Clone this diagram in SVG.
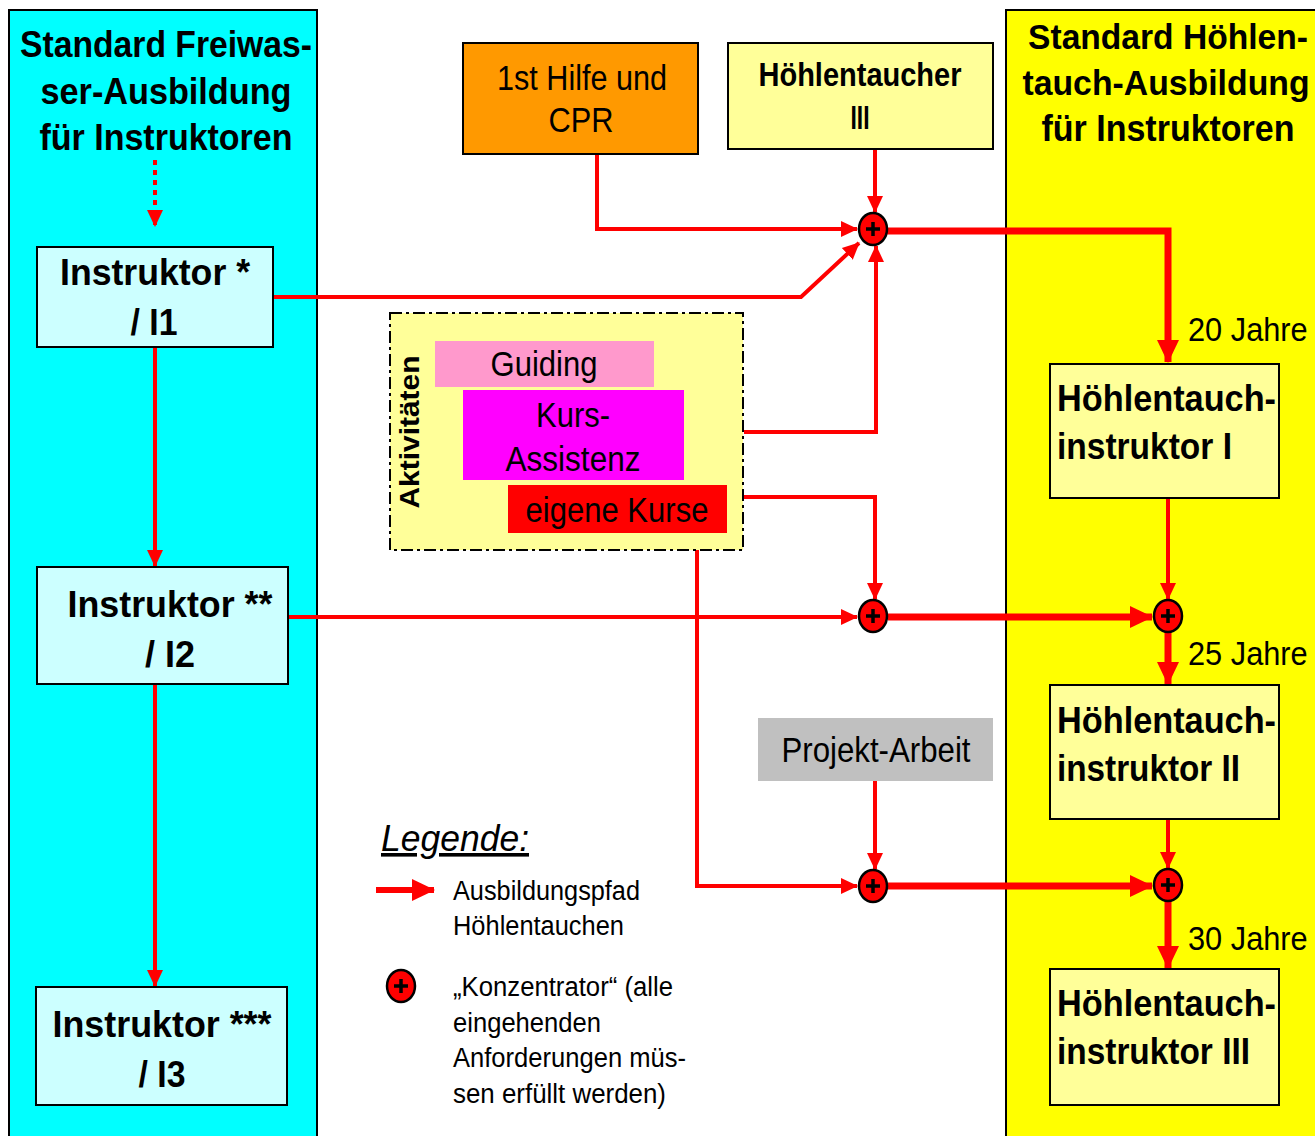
<svg xmlns="http://www.w3.org/2000/svg" width="1315" height="1136" viewBox="0 0 1315 1136">
<style>
text{font-family:"Liberation Sans",Arial,sans-serif;fill:#000}
.b{font-weight:bold}
.t{font-size:36px;font-weight:bold;text-anchor:middle}
.n{font-size:37px;font-weight:bold;text-anchor:middle}
.h{font-size:37px;font-weight:bold}
.r{font-size:35px}
.j{font-size:34px}
.l{font-size:27px}
.box{stroke:#000;stroke-width:2}
.c{fill:none;stroke:#ff0000;stroke-width:4}
.k{fill:none;stroke:#ff0000;stroke-width:7}
</style>
<defs>
<marker id="a" markerUnits="userSpaceOnUse" markerWidth="18" markerHeight="18" refX="16" refY="9" orient="auto"><path d="M0,1 L17,9 L0,17 Z" fill="#ff0000"/></marker>
<marker id="ak" markerUnits="userSpaceOnUse" markerWidth="24" markerHeight="24" refX="22" refY="12" orient="auto"><path d="M0,1 L23,12 L0,23 Z" fill="#ff0000"/></marker>
<g id="plus"><ellipse cx="0" cy="0" rx="14" ry="16" fill="#ff0000" stroke="#000" stroke-width="2.5"/><path d="M-7,0 H7 M0,-7 V7" stroke="#000" stroke-width="3.5"/></g>
</defs>
<rect width="1315" height="1136" fill="#fff"/>
<g id="panel-left">
<rect x="9" y="10" width="308" height="1140" fill="#00ffff" class="box"/>
<text class="t" x="166" y="57" textLength="292" lengthAdjust="spacingAndGlyphs">Standard Freiwas-</text>
<text class="t" x="166" y="104" textLength="251" lengthAdjust="spacingAndGlyphs">ser-Ausbildung</text>
<text class="t" x="166" y="150" textLength="253" lengthAdjust="spacingAndGlyphs">für Instruktoren</text>
</g>
<g id="panel-right">
<rect x="1006" y="10" width="310" height="1140" fill="#ffff00" class="box"/>
<text class="t" transform="translate(1168,49) scale(0.9,1)" textLength="311" lengthAdjust="spacingAndGlyphs">Standard Höhlen-</text>
<text class="t" transform="translate(1166,95) scale(0.9,1)" textLength="319" lengthAdjust="spacingAndGlyphs">tauch-Ausbildung</text>
<text class="t" x="1168" y="141" textLength="253" lengthAdjust="spacingAndGlyphs">für Instruktoren</text>
</g>
<g id="connectors">
<path d="M155,160 V226" fill="none" stroke="#ff0000" stroke-width="4" stroke-dasharray="5 5" marker-end="url(#a)"/>
<path class="c" d="M155,347 V566" marker-end="url(#a)"/>
<path class="c" d="M155,684 V986" marker-end="url(#a)"/>
<path class="c" d="M597,154 V229 H857" marker-end="url(#a)"/>
<path class="c" d="M875,149 V212" marker-end="url(#a)"/>
<path class="c" d="M273,297 H801 L859,243" marker-end="url(#a)"/>
<path class="c" d="M744,432 H876 V246" marker-end="url(#a)"/>
<path class="k" d="M887,231 H1168 V362" marker-end="url(#ak)"/>
<path class="c" d="M288,617 H857" marker-end="url(#a)"/>
<path class="c" d="M744,497 H875 V599" marker-end="url(#a)"/>
<path class="k" d="M888,617 H1152" marker-end="url(#ak)"/>
<path class="c" d="M1168,498 V599" marker-end="url(#a)"/>
<path class="k" d="M1168,632 V684" marker-end="url(#ak)"/>
<path class="c" d="M875,781 V869" marker-end="url(#a)"/>
<path class="c" d="M697,550 V886 H857" marker-end="url(#a)"/>
<path class="k" d="M888,886 H1152" marker-end="url(#ak)"/>
<path class="c" d="M1168,819 V868" marker-end="url(#a)"/>
<path class="k" d="M1168,901 V968" marker-end="url(#ak)"/>
</g>
<g id="concentrators">
<use href="#plus" x="873" y="229"/>
<use href="#plus" x="873" y="616"/>
<use href="#plus" x="1168" y="616"/>
<use href="#plus" x="873" y="886"/>
<use href="#plus" x="1168" y="885"/>
</g>
<g id="i1">
<rect x="37" y="247" width="236" height="100" fill="#ccffff" class="box"/>
<text class="n" x="155" y="285" textLength="190" lengthAdjust="spacingAndGlyphs">Instruktor *</text>
<text class="n" x="154" y="335" textLength="47" lengthAdjust="spacingAndGlyphs">/ I1</text>
</g>
<g id="i2">
<rect x="37" y="567" width="251" height="117" fill="#ccffff" class="box"/>
<text class="n" x="170" y="617" textLength="205" lengthAdjust="spacingAndGlyphs">Instruktor **</text>
<text class="n" x="170" y="667" textLength="50" lengthAdjust="spacingAndGlyphs">/ I2</text>
</g>
<g id="i3">
<rect x="36" y="987" width="251" height="118" fill="#ccffff" class="box"/>
<text class="n" x="162" y="1037" textLength="219" lengthAdjust="spacingAndGlyphs">Instruktor ***</text>
<text class="n" x="162" y="1087" textLength="47" lengthAdjust="spacingAndGlyphs">/ I3</text>
</g>
<g id="cpr">
<rect x="463" y="43" width="235" height="111" fill="#ff9900" class="box"/>
<text class="r" x="582" y="90" text-anchor="middle" textLength="170" lengthAdjust="spacingAndGlyphs">1st Hilfe und</text>
<text class="r" x="581" y="132" text-anchor="middle" textLength="65" lengthAdjust="spacingAndGlyphs">CPR</text>
</g>
<g id="ht3">
<rect x="728" y="43" width="265" height="106" fill="#ffff99" class="box"/>
<text class="b" font-size="33" x="860" y="86" text-anchor="middle" textLength="203" lengthAdjust="spacingAndGlyphs">Höhlentaucher</text>
<text class="b" font-size="33" x="860" y="129" text-anchor="middle" textLength="19" lengthAdjust="spacingAndGlyphs">III</text>
</g>
<g id="aktivitaeten">
<rect x="390" y="313" width="353" height="237" fill="#ffff99" stroke="#000" stroke-width="2" stroke-dasharray="12 4 3 4"/>
<text class="b" font-size="27" transform="translate(419,432) rotate(-90)" text-anchor="middle" textLength="153" lengthAdjust="spacingAndGlyphs">Aktivitäten</text>
<g id="guiding">
<rect x="435" y="341" width="219" height="46" fill="#ff99cc"/>
<text class="r" x="544" y="376" text-anchor="middle" textLength="107" lengthAdjust="spacingAndGlyphs">Guiding</text>
</g>
<g id="kursassistenz">
<rect x="463" y="390" width="221" height="90" fill="#ff00ff"/>
<text class="r" x="573" y="427" text-anchor="middle" textLength="74" lengthAdjust="spacingAndGlyphs">Kurs-</text>
<text class="r" x="573" y="471" text-anchor="middle" textLength="135" lengthAdjust="spacingAndGlyphs">Assistenz</text>
</g>
<g id="eigenekurse">
<rect x="508" y="485" width="219" height="48" fill="#ff0000"/>
<text class="r" x="617" y="522" text-anchor="middle" textLength="183" lengthAdjust="spacingAndGlyphs">eigene Kurse</text>
</g>
</g>
<g id="projekt">
<rect x="758" y="718" width="235" height="63" fill="#c0c0c0"/>
<text class="r" x="876" y="762" text-anchor="middle" textLength="189" lengthAdjust="spacingAndGlyphs">Projekt-Arbeit</text>
</g>
<g id="hti1">
<rect x="1050" y="364" width="229" height="134" fill="#ffff99" class="box"/>
<text class="h" x="1057" y="411" textLength="219" lengthAdjust="spacingAndGlyphs">Höhlentauch-</text>
<text class="h" x="1057" y="459" textLength="175" lengthAdjust="spacingAndGlyphs">instruktor I</text>
</g>
<g id="hti2">
<rect x="1050" y="685" width="229" height="134" fill="#ffff99" class="box"/>
<text class="h" x="1057" y="733" textLength="219" lengthAdjust="spacingAndGlyphs">Höhlentauch-</text>
<text class="h" x="1057" y="781" textLength="183" lengthAdjust="spacingAndGlyphs">instruktor II</text>
</g>
<g id="hti3">
<rect x="1050" y="969" width="229" height="136" fill="#ffff99" class="box"/>
<text class="h" x="1057" y="1016" textLength="219" lengthAdjust="spacingAndGlyphs">Höhlentauch-</text>
<text class="h" x="1057" y="1064" textLength="193" lengthAdjust="spacingAndGlyphs">instruktor III</text>
</g>
<g id="labels">
<text class="j" transform="translate(1188,341) scale(0.9,1)" textLength="133" lengthAdjust="spacingAndGlyphs">20 Jahre</text>
<text class="j" transform="translate(1188,665) scale(0.9,1)" textLength="133" lengthAdjust="spacingAndGlyphs">25 Jahre</text>
<text class="j" transform="translate(1188,950) scale(0.9,1)" textLength="133" lengthAdjust="spacingAndGlyphs">30 Jahre</text>
</g>
<g id="legend">
<text x="381" y="851" font-size="36" font-style="italic" text-decoration="underline" textLength="148" lengthAdjust="spacingAndGlyphs">Legende:</text>
<path d="M376,890 H434" fill="none" stroke="#ff0000" stroke-width="6" marker-end="url(#ak)"/>
<text class="l" x="453" y="900" textLength="187" lengthAdjust="spacingAndGlyphs">Ausbildungspfad</text>
<text class="l" x="453" y="935" textLength="171" lengthAdjust="spacingAndGlyphs">Höhlentauchen</text>
<use href="#plus" x="401" y="986"/>
<text class="l" x="453" y="996" textLength="220" lengthAdjust="spacingAndGlyphs">„Konzentrator“ (alle</text>
<text class="l" x="453" y="1032" textLength="148" lengthAdjust="spacingAndGlyphs">eingehenden</text>
<text class="l" x="453" y="1067" textLength="233" lengthAdjust="spacingAndGlyphs">Anforderungen müs-</text>
<text class="l" x="453" y="1103" textLength="213" lengthAdjust="spacingAndGlyphs">sen erfüllt werden)</text>
</g>
</svg>
